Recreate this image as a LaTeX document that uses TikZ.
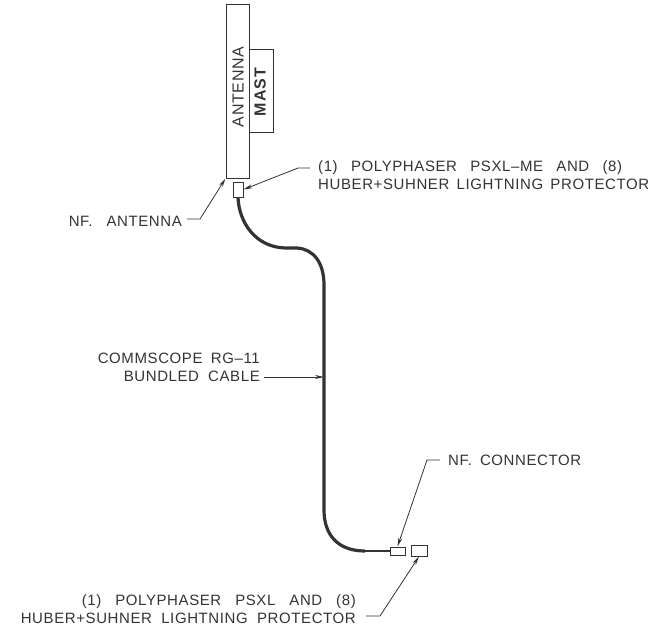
\documentclass[tikz,border=0pt]{standalone}
\usepackage{fontspec}
\setmainfont{Liberation Sans}
\usetikzlibrary{arrows.meta}
\definecolor{ink}{HTML}{333333}
\newcommand{\fitline}[2]{\hbox to #1pt{\spaceskip=6pt plus 1fil minus 6pt\relax #2}}
\tikzset{
  label/.style={text=ink, font=\fontsize{15}{18}\selectfont\addfontfeature{LetterSpace=4}, inner sep=0pt},
  tag/.style={text=ink, rotate=90, inner sep=0pt},
  part/.style={draw=ink, line width=1pt, fill=white, inner sep=0pt},
  leader/.style={draw=ink, line width=0.8pt, -{Stealth[length=9pt,width=4pt]}},
}
\begin{document}
\begin{tikzpicture}[x=1pt, y=-1pt]
  \useasboundingbox (0,0) rectangle (653,634);

  \node[part, minimum width=24pt, minimum height=82pt] (mast) at (261,91) {};
  \node[part, minimum width=23pt, minimum height=173pt] (antenna) at (237.5,91.5) {};
  \node[tag, font=\fontsize{16}{18}\selectfont\addfontfeature{LetterSpace=4}] (antennatxt) at (238,87) {ANTENNA};
  \node[tag, font=\fontsize{16}{18}\selectfont\bfseries\addfontfeature{LetterSpace=8}] (masttxt) at (260,92) {MAST};

  \node[part, minimum width=10pt, minimum height=15pt] (topconn) at (238,189.5) {};
  \node[part, minimum width=15pt, minimum height=8pt] (botconn) at (397.5,551) {};
  \node[part, minimum width=16pt, minimum height=11pt] (protect) at (419,550.5) {};

  % bundled cable
  \draw[ink, line width=3.2pt] (topconn.south)
    .. controls (239,222) and (255,247) .. (285,248)
    -- (297,248)
    .. controls (313,249) and (324,262) .. (324,285)
    -- (324,510)
    .. controls (324,535) and (338,551) .. (365,551);
  \draw[ink, line width=2.4pt] (365,551) -- (botconn.west);
  \coordinate (cablehit) at (324,377);

  \node[label, anchor=east] (ant) at (182,221) {\fitline{113}{NF. ANTENNA}};
  \node[label, anchor=west, align=left] (psxlme) at (318,175.5) {\fitline{304}{(1) POLYPHASER PSXL\textendash ME AND (8)}\\\fitline{331}{HUBER+SUHNER LIGHTNING PROTECTOR}};
  \node[label, anchor=east, align=right] (rg) at (260,367) {\fitline{162}{COMMSCOPE RG\textendash 11}\\\fitline{136}{BUNDLED CABLE}};
  \node[label, anchor=west] (nfconn) at (448,460) {\fitline{133}{NF. CONNECTOR}};
  \node[label, anchor=east, align=right] (psxl) at (356,609) {\fitline{274}{(1) POLYPHASER PSXL AND (8)}\\\fitline{335}{HUBER+SUHNER LIGHTNING PROTECTOR}};

  \draw[leader] (ant.east) ++(5,-2) -- ++(13,0) -- (antenna.south west);
  \draw[leader] (psxlme.west) ++(-8,-7.5) -- ++(-12,0) -- (topconn.east);
  \draw[leader] (rg.east) ++(4,10) -- (cablehit);
  \draw[leader] (nfconn.west) ++(-8,0) -- ++(-13,0) -- (botconn.north);
  \draw[leader] (psxl.east) ++(10,7) -- ++(14,0) -- (protect.south);
\end{tikzpicture}
\end{document}
